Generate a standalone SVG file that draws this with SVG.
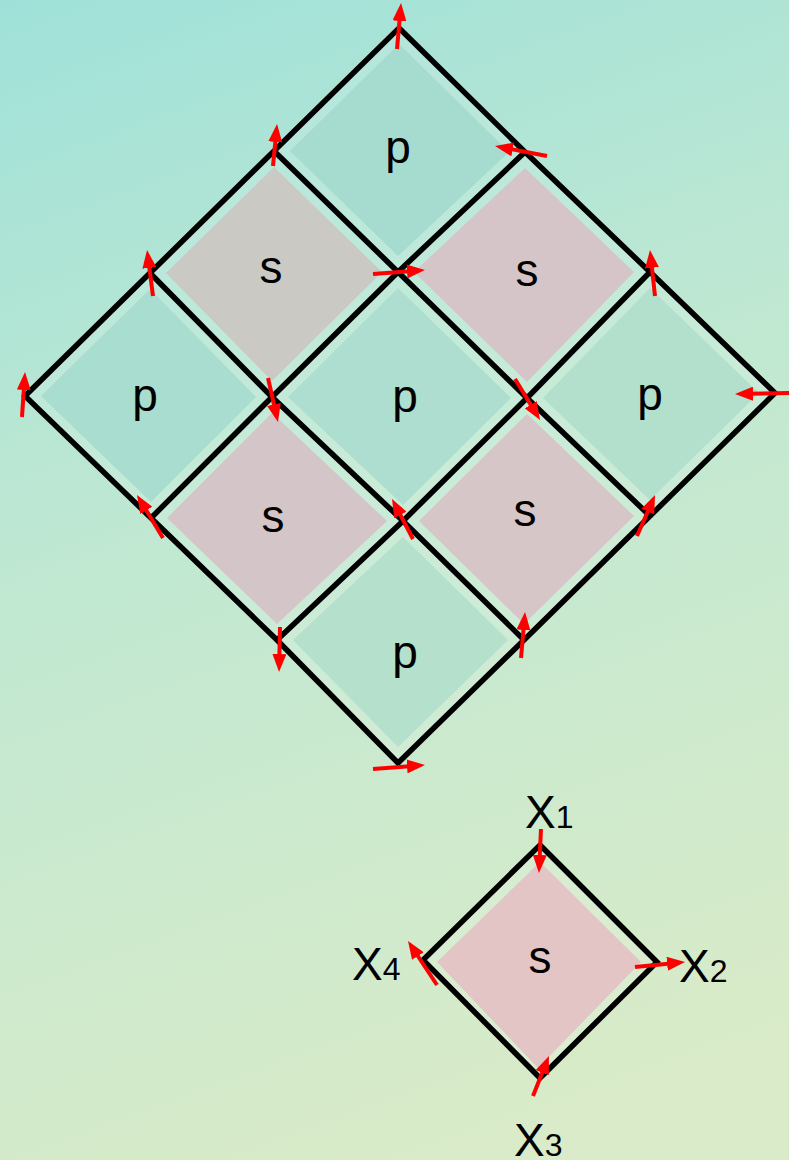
<svg xmlns="http://www.w3.org/2000/svg" width="789" height="1160" viewBox="0 0 789 1160">
<defs>
<linearGradient id="bg" gradientUnits="userSpaceOnUse" x1="0" y1="0" x2="420" y2="1160">
<stop offset="0" stop-color="#9fe1d9"/>
<stop offset="0.45" stop-color="#c0e8d2"/>
<stop offset="1" stop-color="#d9ebc8"/>
</linearGradient>
<marker id="ah" viewBox="0 0 18 14" markerWidth="18" markerHeight="14" refX="6" refY="7" orient="auto" markerUnits="userSpaceOnUse">
<path d="M0,0 L18,7 L0,14 z" fill="#ff0000"/>
</marker>
<style>
.band{fill:#ffffff;fill-opacity:0.13}
.lbl{font-family:"Liberation Sans",Arial,sans-serif;font-size:46px;fill:#000;text-anchor:middle}
.xl{font-family:"Liberation Sans",Arial,sans-serif;font-size:46px;fill:#000}
.sub{font-size:32px}
.grid{fill:none;stroke:#000;stroke-width:5.5;stroke-linejoin:miter}
.arr{stroke:#ff0000;stroke-width:4;fill:none;marker-end:url(#ah)}
</style>
</defs>
<rect x="0" y="0" width="789" height="1160" fill="url(#bg)"/>

<g id="cell-p-top">
<polygon class="band" points="399,28 525,152 398,272 274,151"/>
<polygon fill="#a6dccf" points="399,44 509,152 398,256 290,151"/>
<text class="lbl" x="398" y="163">p</text>
</g>
<g id="cell-s-upper-left">
<polygon class="band" points="274,151 398,272 272,397 150,273"/>
<polygon fill="#cbc9c4" points="274,167 382,272 272,381 166,273"/>
<text class="lbl" x="271" y="283">s</text>
</g>
<g id="cell-s-upper-right">
<polygon class="band" points="525,152 650,272 527,398 398,272"/>
<polygon fill="#d5c5c9" points="525,168 634,272 527,382 414,272"/>
<text class="lbl" x="527" y="286">s</text>
</g>
<g id="cell-p-left">
<polygon class="band" points="150,273 272,397 151,518 25,396"/>
<polygon fill="#a9ddd0" points="150,289 256,397 151,502 41,396"/>
<text class="lbl" x="145" y="411">p</text>
</g>
<g id="cell-p-center">
<polygon class="band" points="398,272 527,398 403,521 272,397"/>
<polygon fill="#addecf" points="398,288 511,398 403,505 288,397"/>
<text class="lbl" x="405" y="412">p</text>
</g>
<g id="cell-p-right">
<polygon class="band" points="650,272 775,393 650,516 527,398"/>
<polygon fill="#b3e0cd" points="650,288 759,393 650,500 543,398"/>
<text class="lbl" x="650" y="410">p</text>
</g>
<g id="cell-s-lower-left">
<polygon class="band" points="272,397 403,521 277,640 151,518"/>
<polygon fill="#d4c5c8" points="272,413 387,521 277,624 167,518"/>
<text class="lbl" x="273" y="532">s</text>
</g>
<g id="cell-s-lower-right">
<polygon class="band" points="527,398 650,516 524,640 403,521"/>
<polygon fill="#d7c6c7" points="527,414 634,516 524,624 419,521"/>
<text class="lbl" x="525" y="526">s</text>
</g>
<g id="cell-p-bottom">
<polygon class="band" points="403,521 524,640 398,763 277,640"/>
<polygon fill="#b5e0cc" points="403,537 508,640 398,747 293,640"/>
<text class="lbl" x="405" y="668">p</text>
</g>

<g id="grid-lines">
<polygon class="grid" points="399,28 525,152 650,272 775,393 650,516 524,640 398,763 277,640 151,518 25,396 150,273 274,151"/>
<polyline class="grid" points="274,151 398,272 527,398 650,516"/>
<polyline class="grid" points="150,273 272,397 403,521 524,640"/>
<polyline class="grid" points="525,152 398,272 272,397 151,518"/>
<polyline class="grid" points="650,272 527,398 403,521 277,640"/>
</g>

<g id="cell-s-single">
<polygon class="band" points="540,845 657,962 540,1078 423,960"/>
<polygon fill="#e2c5c4" points="540,862 641,962 538,1068 437,962"/>
<polygon class="grid" points="540,845 657,962 540,1078 423,960"/>
<text class="lbl" x="540" y="973">s</text>
</g>
<g id="label-x1"><text class="xl" x="525" y="828">X<tspan class="sub">1</tspan></text></g>
<g id="label-x2"><text class="xl" x="679" y="982">X<tspan class="sub">2</tspan></text></g>
<g id="label-x3"><text class="xl" x="514" y="1156">X<tspan class="sub">3</tspan></text></g>
<g id="label-x4"><text class="xl" x="352" y="980">X<tspan class="sub">4</tspan></text></g>

<g id="connectors">
<line class="arr" x1="397" y1="49" x2="400" y2="15"/>
<line class="arr" x1="547" y1="156" x2="506.8" y2="148.3"/>
<line class="arr" x1="273" y1="166" x2="275.9" y2="136"/>
<line class="arr" x1="153" y1="296" x2="148.6" y2="261.9"/>
<line class="arr" x1="22" y1="417" x2="24.2" y2="384"/>
<line class="arr" x1="373" y1="274" x2="413" y2="270.9"/>
<line class="arr" x1="268" y1="378" x2="275.3" y2="410.3"/>
<line class="arr" x1="655" y1="296" x2="651.3" y2="261.9"/>
<line class="arr" x1="789" y1="393" x2="747" y2="393.8"/>
<line class="arr" x1="515" y1="379" x2="533.8" y2="409.8"/>
<line class="arr" x1="163" y1="538" x2="143.2" y2="505.3"/>
<line class="arr" x1="413" y1="539" x2="397.6" y2="509.6"/>
<line class="arr" x1="637" y1="536" x2="650.2" y2="506"/>
<line class="arr" x1="280" y1="627" x2="279.3" y2="660"/>
<line class="arr" x1="521" y1="658" x2="524" y2="624"/>
<line class="arr" x1="373" y1="769" x2="413" y2="765.9"/>
<line class="arr" x1="541" y1="829" x2="539.5" y2="861"/>
<line class="arr" x1="635" y1="967" x2="673.1" y2="963.2"/>
<line class="arr" x1="533" y1="1096" x2="544.5" y2="1067.1"/>
<line class="arr" x1="437" y1="985" x2="414.6" y2="951"/>
</g>
</svg>
